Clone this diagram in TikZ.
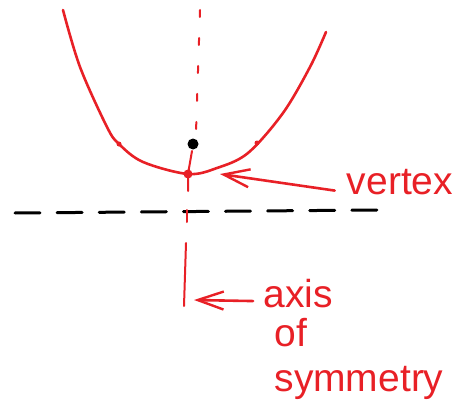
\documentclass[tikz,border=0pt]{standalone}
\usepackage{fontspec}
\setmainfont{Liberation Sans}
\usetikzlibrary{arrows.meta}
\definecolor{sketchred}{RGB}{232, 32, 38}

\begin{document}
\begin{tikzpicture}[x=1pt, y=-1pt, line cap=round, line join=round,
    >={Straight Barb[length=26pt, width=18pt, line width=2.4pt]},
    redline/.style={sketchred, line width=2.6pt},
    label/.style={sketchred, font=\fontsize{39}{41}\selectfont, inner sep=0pt, anchor=base}]
    \useasboundingbox (0,0) rectangle (466,404);
    % directrix
    \draw[black, line width=3pt, dash pattern=on 25pt off 17.1pt] (15,213) -- (377,210);
    % axis of symmetry
    \coordinate (axtop) at (200,10);
    \coordinate (focus) at (193,144);
    \coordinate (vertex) at (188,174);
    \coordinate (axbot) at (184,306);
    \draw[redline, line width=2pt, dash pattern=on 7pt off 21pt] (axtop) -- (196,132);
    \draw[redline, line width=2pt] (192,151) -- (vertex) -- (188,191);
    \draw[redline, line width=2pt] (187,210) -- (187,222);
    \draw[redline, line width=2pt] (186,243) -- (axbot);
    % parabola
    \draw[redline] plot[smooth, tension=0.55] coordinates {
      (63,10) (80,67) (107,127) (119,144) (143,162) (188,174)
      (217,168) (248,153) (283,113) (310,67) (326,32)
    };
    \fill[sketchred] (119,144) circle (2.5pt) (257,143) circle (2.5pt)
      (vertex) circle (4.5pt);
    \fill[black] (focus) circle (5.5pt);
    % labels
    \node[label] (lvertex) at (400,194) {vertex};
    \node[label] (laxis) at (298,307) {axis};
    \node[label] (lof) at (291,346) {of};
    \node[label] (lsym) at (359,391) {symmetry};
    \draw[redline, ->] (lvertex.west) ++(-12pt,-9pt) -- (220,174);
    \draw[redline, ->] (laxis.west) ++(-10pt,-8pt) -- (194,300);
  \end{tikzpicture}
\end{document}
